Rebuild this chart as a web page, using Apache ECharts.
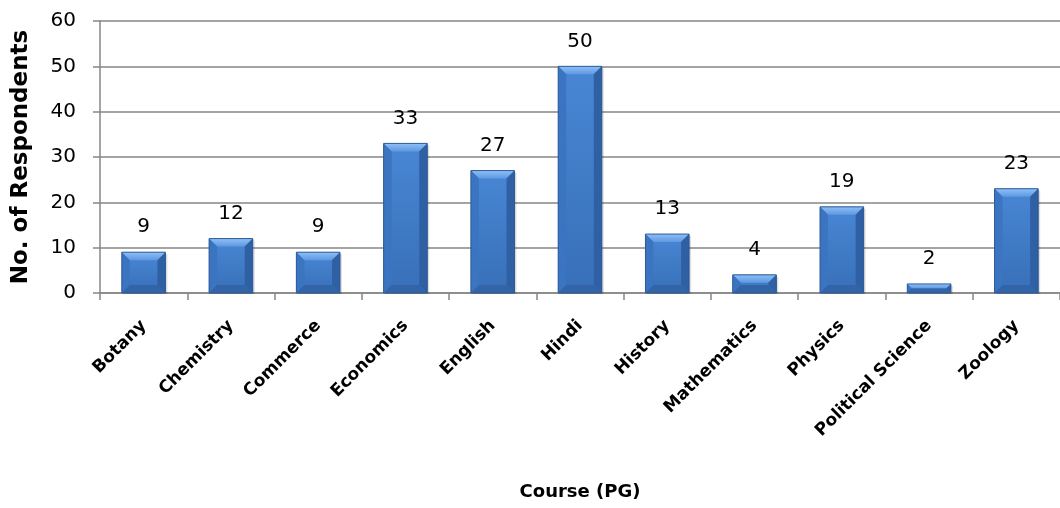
<!DOCTYPE html>
<html><head><meta charset="utf-8">
<script src="https://cdn.jsdelivr.net/npm/echarts@6/dist/echarts.min.js"></script>
<style>html,body{margin:0;padding:0;background:#fff}#c{width:1060px;height:508px}</style>
</head><body><div id="c"></div>
<script>
const categories = ["Botany","Chemistry","Commerce","Economics","English","Hindi","History","Mathematics","Physics","Political Science","Zoology"];
const respondents = [9,12,9,33,27,50,13,4,19,2,23];
const yTicks = {min:0, max:60, interval:10};
const xTitle = "Course (PG)";
const yTitle = "No. of Respondents";

const font = "'DejaVu Sans', sans-serif";
const chart = echarts.init(document.getElementById('c'), null, {renderer:'canvas'});

function renderBevelBar(params, api){
  const x = api.value(0), v = api.value(1);
  const top = api.coord([x, v]);
  const base = api.coord([x, 0]);
  const band = api.size([1, 0])[0];
  const w = band * 0.5;
  const l = top[0] - w/2, r = top[0] + w/2, t = top[1], b = base[1];
  const h = b - t;
  const bv = Math.min(8, h/2, w/2);
  const kids = [];
  kids.push({type:'rect', shape:{x:l+2, y:t+2, width:w, height:h-1}, style:{fill:'rgba(0,0,0,0.13)'}});
  kids.push({type:'rect', shape:{x:l, y:t, width:w, height:h}, style:{
    fill:new echarts.graphic.LinearGradient(0,0,0,1,[{offset:0,color:'#4886d4'},{offset:1,color:'#3870b8'}])}});
  kids.push({type:'polygon', shape:{points:[[l,t],[r,t],[r-bv,t+bv],[l+bv,t+bv]]}, style:{
    fill:new echarts.graphic.LinearGradient(0,0,0,1,[{offset:0,color:'#8ec0f6'},{offset:1,color:'#5e98e2'}])}});
  kids.push({type:'polygon', shape:{points:[[l,t],[l+bv,t+bv],[l+bv,b-bv],[l,b]]}, style:{fill:'#3b74c0'}});
  kids.push({type:'polygon', shape:{points:[[r,t],[r-bv,t+bv],[r-bv,b-bv],[r,b]]}, style:{fill:'#2f60a3'}});
  kids.push({type:'polygon', shape:{points:[[l,b],[l+bv,b-bv],[r-bv,b-bv],[r,b]]}, style:{fill:'#3364a8'}});
  kids.push({type:'rect', shape:{x:l, y:t, width:w, height:h}, style:{fill:null, stroke:'#2e5b96', lineWidth:1}});
  return {type:'group', children:kids};
}

chart.setOption({
  animation:false,
  backgroundColor:'#fff',
  grid:{left:100, top:21, right:-7, bottom:215, containLabel:false},
  xAxis:{
    type:'category', data:categories,
    axisLine:{lineStyle:{color:'#868686', width:1.5}},
    axisTick:{show:true, alignWithLabel:false, length:7, lineStyle:{color:'#868686', width:1.5}},
    axisLabel:{rotate:45, margin:30, fontFamily:font, fontWeight:'bold', fontSize:17, color:'#000', interval:0},
    name:xTitle, nameLocation:'middle', nameGap:190,
    nameTextStyle:{fontFamily:font, fontWeight:'bold', fontSize:18, color:'#000'}
  },
  yAxis:{
    type:'value', min:yTicks.min, max:yTicks.max, interval:yTicks.interval,
    axisLine:{show:true, lineStyle:{color:'#868686', width:1.5}},
    axisTick:{show:true, length:7, lineStyle:{color:'#868686', width:1.5}},
    splitLine:{lineStyle:{color:'#868686', width:1.5}},
    axisLabel:{margin:24, fontFamily:font, fontSize:20, color:'#000'},
    name:yTitle, nameLocation:'middle', nameGap:67, nameRotate:90,
    nameTextStyle:{fontFamily:font, fontWeight:'bold', fontSize:23, color:'#000'}
  },
  series:[{
    type:'custom', renderItem:renderBevelBar,
    encode:{x:0, y:1},
    data:respondents.map((v,i)=>[i,v]),
    z:2
  },{
    type:'bar', data:respondents, barWidth:'50%', barGap:'-100%',
    itemStyle:{color:'rgba(0,0,0,0)'},
    label:{show:true, position:'top', distance:15, fontFamily:font, fontSize:20, color:'#000'},
    z:3, silent:true
  }]
});
</script></body></html>
